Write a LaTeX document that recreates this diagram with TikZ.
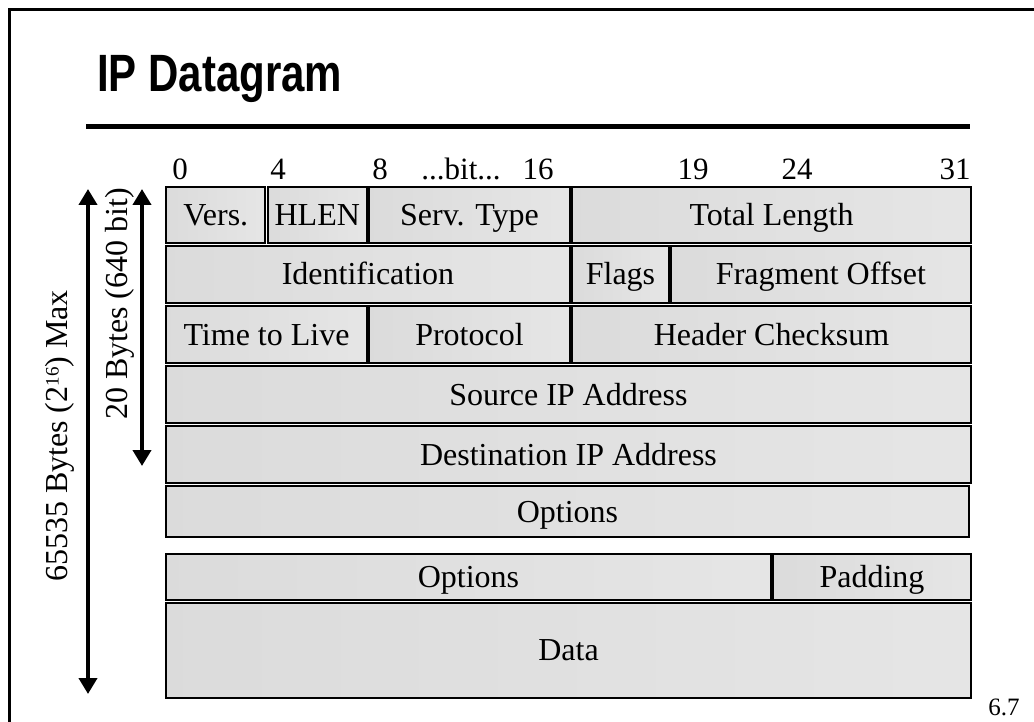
\documentclass[tikz,border=0pt]{standalone}
\usepackage{fontspec}
\setmainfont{Liberation Serif}
\newfontfamily\titlefont{Liberation Sans}
\usepackage{tikz}
\usetikzlibrary{positioning, calc, arrows.meta}

\tikzset{
    cell/.style={draw, line width=2pt, left color=gray!28, middle color=white, right color=gray!20,
        inner sep=0pt, text height=21pt, text depth=0pt, font=\fontsize{32}{38}\selectfont},
    bitnum/.style={anchor=base, inner sep=0pt, font=\fontsize{31}{36}\selectfont},
    dimarrow/.style={line width=4pt, {Triangle[width=18pt,length=16pt]}-{Triangle[width=18pt,length=16pt]}},
    dimlabel/.style={rotate=90, inner sep=0pt, font=\fontsize{32}{38}\selectfont},
}

\begin{document}
\begin{tikzpicture}[x=1pt, y=-1pt]
    \useasboundingbox (0,0) rectangle (1034,722);

    % 枠
    \draw[line width=3pt] (9.5,722) -- (9.5,9.5) -- (1034,9.5);

    % タイトル
    \node[anchor=base west, inner sep=0pt, font=\titlefont\bfseries\fontsize{42}{50}\selectfont] (title) at (97,92) {\scalebox{1}[1.25]{IP Datagram}};
    \draw[line width=5pt] (86,127) -- (970,127);

    % ビット番号
    \node[bitnum] (b0) at (180,180) {0};
    \node[bitnum] (b4) at (278,180) {4};
    \node[bitnum] (b8) at (380,180) {8};
    \node[bitnum] (bit) at (461,180) {...bit...};
    \node[bitnum] (b16) at (538,180) {16};
    \node[bitnum] (b19) at (693,180) {19};
    \node[bitnum] (b24) at (797,180) {24};
    \node[bitnum] (b31) at (955,180) {31};

    % 1行目
    \node[cell, minimum width=99, minimum height=56] (vers) at (215.75,215.25) {Vers.};
    \node[cell, minimum width=99, minimum height=56] (hlen) at (317.25,215.25) {HLEN};
    \node[cell, minimum width=200.5, minimum height=56] (serv) at (469.5,215.25) {Serv. Type};
    \node[cell, minimum width=398.5, minimum height=56] (totlen) at (771.5,215.25) {Total Length};

    % 2行目
    \node[cell, minimum width=403.5, minimum height=57.5] (ident) at (368,274.5) {Identification};
    \node[cell, minimum width=96.5, minimum height=57.5] (flags) at (620.5,274.5) {Flags};
    \node[cell, minimum width=299.5, minimum height=57.5] (fragoff) at (821,274.5) {Fragment Offset};

    % 3行目
    \node[cell, minimum width=200.5, minimum height=57.5] (ttl) at (266.5,334.5) {Time to Live};
    \node[cell, minimum width=200.5, minimum height=57.5] (proto) at (469.5,334.5) {Protocol};
    \node[cell, minimum width=398.5, minimum height=57.5] (chksum) at (771.5,334.5) {Header Checksum};

    % アドレス
    \node[cell, minimum width=804.5, minimum height=57.5] (srcip) at (568.5,394.5) {Source IP Address};
    \node[cell, minimum width=804.5, minimum height=57.5] (dstip) at (568.5,454.5) {Destination IP Address};
    \node[cell, minimum width=802.5, minimum height=51.5] (opt) at (567.5,511.5) {Options};

    % オプションとデータ
    \node[cell, minimum width=604.5, minimum height=46] (opt2) at (468.5,577.25) {Options};
    \node[cell, minimum width=197.5, minimum height=46] (pad) at (872,577.25) {Padding};
    \node[cell, minimum width=804.5, minimum height=95] (data) at (568.5,650.25) {Data};

    % 長さの矢印
    \coordinate (outtop) at (88,189);
    \coordinate (outbot) at (88,694);
    \coordinate (intop) at (142,189);
    \coordinate (inbot) at (142,466);
    \draw[dimarrow] (outtop) -- (outbot);
    \draw[dimarrow] (intop) -- (inbot);
    \node[dimlabel] (maxlbl) at (60,436) {65535 Bytes (2\raisebox{9pt}{\fontsize{19}{20}\selectfont 16}) Max};
    \node[dimlabel] (hdrlbl) at (120,304) {20 Bytes (640 bit)};

    % ページ番号
    \node[inner sep=0pt, font=\fontsize{25}{30}\selectfont] (pagenum) at (1004,707) {6.7};
\end{tikzpicture}
\end{document}
